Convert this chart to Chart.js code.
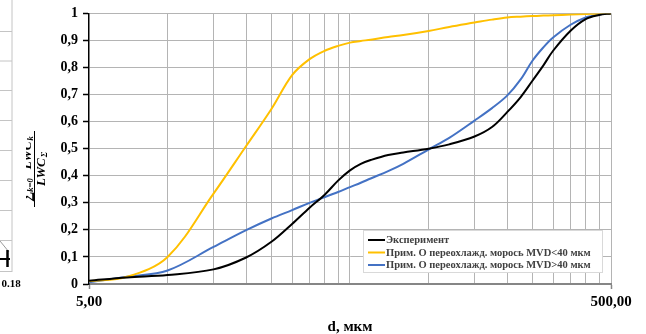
<!DOCTYPE html>
<html>
<head>
<meta charset="utf-8">
<script src="https://cdn.jsdelivr.net/npm/chart.js@4/dist/chart.umd.min.js"></script>
<style>
  html, body { margin: 0; padding: 0; background: #fff; }
  canvas { display: block; }
</style>
</head>
<body>
<canvas id="chart" width="646" height="334"></canvas>
<script>
// Droplet diameters, µm
const diameters = [5, 7, 10, 15, 20, 25, 30, 35, 40, 45, 50, 55, 60, 70, 80, 100, 120, 150, 175, 200, 225, 250, 275, 300, 350, 400, 450, 500];

// Cumulative LWC fraction for each series
const experiment = [0.012, 0.024, 0.033, 0.054, 0.098, 0.156, 0.222, 0.282, 0.33, 0.382, 0.42, 0.444, 0.458, 0.477, 0.486, 0.5, 0.516, 0.545, 0.58, 0.635, 0.69, 0.751, 0.807, 0.862, 0.936, 0.979, 0.994, 1.0];
const drizzleBelow40 = [0.01, 0.027, 0.10, 0.334, 0.51, 0.647, 0.772, 0.831, 0.862, 0.88, 0.892, 0.898, 0.903, 0.913, 0.92, 0.935, 0.95, 0.966, 0.977, 0.985, 0.988, 0.99, 0.992, 0.993, 0.996, 0.998, 0.999, 1.0];
const drizzleAbove40 = [0.006, 0.027, 0.05, 0.137, 0.199, 0.242, 0.273, 0.3, 0.321, 0.34, 0.358, 0.374, 0.39, 0.417, 0.444, 0.497, 0.54, 0.604, 0.65, 0.696, 0.755, 0.825, 0.874, 0.911, 0.958, 0.985, 0.996, 1.0];

const seriesLabels = [
  'Эксперимент',
  'Прим. О переохлажд. морось MVD<40 мкм',
  'Прим. О переохлажд. морось MVD>40 мкм'
];

// Vertical grid positions on the log axis and the two labelled ends
const xGridValues = [5, 10, 15, 20, 25, 30, 35, 40, 45, 50, 100, 150, 200, 250, 300, 350, 400, 450, 500];
const xTickLabels = { 5: '5,00', 500: '500,00' };

const SERIF = "'Liberation Serif', 'Times New Roman', serif";

const toPoints = values => diameters.map((d, i) => ({ x: d, y: values[i] }));

// Edge of the neighbouring panel on the left
const neighbourPanel = {
  id: 'neighbourPanel',
  beforeDraw(chart) {
    const c = chart.ctx;
    c.save();
    c.fillStyle = '#fff';
    c.fillRect(0, 0, chart.width, chart.height);
    c.strokeStyle = '#c4c4c4';
    c.lineWidth = 1;
    c.beginPath();
    c.moveTo(12, 0); c.lineTo(12, 272);
    [31.5, 61, 90.5, 120.5, 150.5, 180.5, 210.5, 240.5, 271.5].forEach(y => {
      c.moveTo(0, y); c.lineTo(12, y);
    });
    c.stroke();
    c.strokeStyle = '#9a9a9a';
    c.beginPath();
    c.moveTo(0, 241); c.lineTo(9, 252);
    c.stroke();
    c.strokeStyle = '#000';
    c.lineWidth = 2;
    c.beginPath();
    c.moveTo(0, 259); c.lineTo(10, 259);
    c.stroke();
    c.lineWidth = 2.5;
    c.beginPath();
    c.moveTo(7.5, 250); c.lineTo(7.5, 267);
    c.stroke();
    c.fillStyle = '#000';
    c.font = 'bold 11px ' + SERIF;
    c.textBaseline = 'alphabetic';
    c.fillText('0.18', 1.5, 287);
    c.restore();
  }
};

// Fraction-style y-axis title: Σ LWC_k / LWC_Σ
const fractionTitle = {
  id: 'fractionTitle',
  afterDraw(chart) {
    const c = chart.ctx;
    const main = 'bold italic 13px ' + SERIF;
    const mainUp = 'bold 14px ' + SERIF;
    const sub = 'bold italic 8.5px ' + SERIF;
    c.save();
    c.translate(34.5, 169);
    c.rotate(-Math.PI / 2);
    c.fillStyle = '#000';
    c.strokeStyle = '#000';
    c.lineWidth = 1;
    c.beginPath();
    c.moveTo(-38, 0); c.lineTo(38, 0);
    c.stroke();
    c.textBaseline = 'alphabetic';

    // denominator
    c.font = main; const wL = c.measureText('LWC').width;
    c.font = sub; const wS = c.measureText('Σ').width;
    let u = -(wL + wS + 1) / 2;
    c.font = main; c.fillText('LWC', u, 10.5);
    c.font = sub; c.fillText('Σ', u + wL + 1, 12.5);
    c.restore();

    // numerator, trimmed by the panel edge
    c.save();
    c.beginPath();
    c.rect(26, 0, 40, chart.height);
    c.clip();
    c.translate(34.5, 169);
    c.rotate(-Math.PI / 2);
    c.fillStyle = '#000';
    c.textBaseline = 'alphabetic';
    c.font = mainUp; const wSum = c.measureText('∑').width;
    c.font = sub; const wK0 = c.measureText('k=0').width;
    c.font = main; const wLWC = c.measureText('LWC').width;
    c.font = sub; const wK = c.measureText('k').width;
    const gap = 9;
    const total = wSum + wK0 + gap + wLWC + wK + 1;
    u = -total / 2;
    c.font = mainUp; c.fillText('∑', u, -3.5);
    u += wSum;
    c.font = sub; c.fillText('k=0', u, -1.5);
    u += wK0 + gap;
    c.font = main; c.fillText('LWC', u, -3.5);
    u += wLWC + 1;
    c.font = sub; c.fillText('k', u, -1.5);
    c.restore();
  }
};

// Boxed legend inside the plot, lower right
const boxedLegend = {
  id: 'boxedLegend',
  afterDatasetsDraw(chart) {
    const c = chart.ctx;
    const area = chart.chartArea;
    const x0 = area.right - 248, y0 = area.bottom - 54, w = 239, h = 42;
    c.save();
    c.fillStyle = '#fff';
    c.fillRect(x0, y0, w, h);
    c.strokeStyle = '#d9d9d9';
    c.lineWidth = 1;
    c.strokeRect(x0 + 0.5, y0 + 0.5, w, h);
    c.font = 'bold 10.5px ' + SERIF;
    c.textBaseline = 'middle';
    chart.data.datasets.forEach((ds, i) => {
      const y = y0 + 10 + i * 12.5;
      c.strokeStyle = ds.borderColor;
      c.lineWidth = 2;
      c.beginPath();
      c.moveTo(x0 + 5, y); c.lineTo(x0 + 22, y);
      c.stroke();
      c.fillStyle = '#404040';
      c.fillText(ds.label, x0 + 23, y + 0.5);
    });
    c.restore();
  }
};

new Chart(document.getElementById('chart'), {
  type: 'line',
  data: {
    datasets: [
      { label: seriesLabels[0], data: toPoints(experiment), borderColor: '#000000' },
      { label: seriesLabels[1], data: toPoints(drizzleBelow40), borderColor: '#FFC000' },
      { label: seriesLabels[2], data: toPoints(drizzleAbove40), borderColor: '#4472C4' }
    ].map(ds => Object.assign(ds, {
      borderWidth: 2,
      pointRadius: 0,
      fill: false,
      tension: 0.35
    }))
  },
  options: {
    responsive: false,
    animation: false,
    events: [],
    layout: { padding: { left: 0, right: 35, top: 12, bottom: 0 } },
    plugins: {
      legend: { display: false },
      tooltip: { enabled: false }
    },
    scales: {
      x: {
        type: 'logarithmic',
        min: 5,
        max: 500,
        afterBuildTicks: scale => { scale.ticks = xGridValues.map(v => ({ value: v })); },
        afterFit: scale => { scale.height = 50; },
        grid: {
          color: ctx => (ctx.tick && ctx.tick.value === 5) ? 'rgba(0,0,0,0)' : '#b4b4b4',
          lineWidth: 1,
          tickLength: 5,
          tickColor: ctx => (ctx.tick && xTickLabels[ctx.tick.value]) ? '#868686' : 'rgba(0,0,0,0)',
          tickWidth: 1.5
        },
        border: { color: '#868686', width: 2 },
        ticks: {
          autoSkip: false,
          maxRotation: 0,
          padding: 4,
          color: '#000',
          font: { family: SERIF, size: 15, weight: 'bold' },
          callback: v => xTickLabels[v] || ''
        },
        title: {
          display: true,
          text: 'd, мкм',
          color: '#000',
          font: { family: SERIF, size: 15, weight: 'bold' },
          padding: { top: 0, bottom: -2 }
        }
      },
      y: {
        min: 0,
        max: 1,
        afterFit: scale => { scale.width = 89; },
        grid: {
          color: ctx => (ctx.tick && ctx.tick.value === 0) ? 'rgba(0,0,0,0)' : '#b4b4b4',
          lineWidth: 1,
          tickLength: 6,
          tickColor: '#000',
          tickWidth: 1.5
        },
        border: { color: '#000', width: 1.5 },
        ticks: {
          stepSize: 0.1,
          padding: 5,
          color: '#000',
          font: { family: SERIF, size: 14, weight: 'bold' },
          callback: v => {
            const r = Math.round(v * 10) / 10;
            return (r === 0 || r === 1) ? String(r) : r.toFixed(1).replace('.', ',');
          }
        }
      }
    }
  },
  plugins: [neighbourPanel, fractionTitle, boxedLegend]
});
</script>
</body>
</html>
